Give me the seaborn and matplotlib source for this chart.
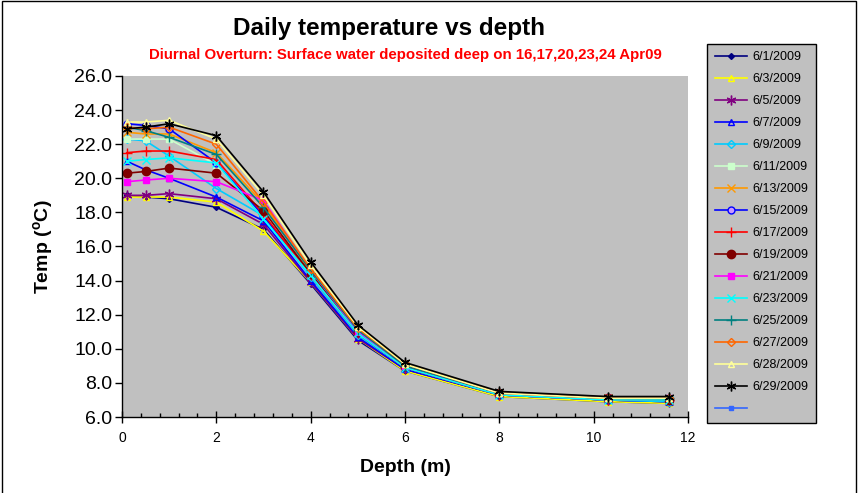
import matplotlib
matplotlib.use("Agg")
import matplotlib.pyplot as plt
import seaborn as sns
import pandas as pd
from matplotlib.patches import Rectangle

# depths (m) of the sensors
depth = [0.1, 0.5, 1, 2, 3, 4, 5, 6, 8, 10.3, 11.6]

dates = ["6/1/2009", "6/3/2009", "6/5/2009", "6/7/2009", "6/9/2009", "6/11/2009",
         "6/13/2009", "6/15/2009", "6/17/2009", "6/19/2009", "6/21/2009",
         "6/23/2009", "6/25/2009", "6/27/2009", "6/28/2009", "6/29/2009"]

t_0601 = [19.0, 18.9, 18.8, 18.3, 17.0, 13.8, 10.5, 8.7, 7.2, 6.9, 6.8]
t_0603 = [18.9, 18.9, 18.9, 18.6, 16.9, 13.9, 10.6, 8.7, 7.2, 6.9, 6.8]
t_0605 = [19.0, 19.0, 19.1, 18.8, 17.3, 13.9, 10.6, 8.8, 7.3, 7.0, 6.9]
t_0607 = [21.0, 20.5, 20.0, 18.9, 17.5, 14.0, 10.7, 8.8, 7.3, 7.0, 6.9]
t_0609 = [22.3, 22.2, 21.3, 19.4, 17.8, 14.2, 10.8, 8.9, 7.3, 7.0, 6.9]
t_0611 = [22.3, 22.3, 22.3, 20.8, 18.0, 14.3, 10.9, 8.9, 7.3, 7.0, 7.0]
t_0613 = [22.7, 22.6, 22.6, 21.5, 18.5, 14.5, 11.0, 9.0, 7.4, 7.1, 7.0]
t_0615 = [23.2, 23.1, 22.9, 20.9, 17.8, 14.4, 10.9, 8.9, 7.3, 7.0, 7.0]
t_0617 = [21.5, 21.6, 21.6, 21.1, 17.9, 14.3, 10.9, 8.9, 7.3, 7.0, 7.0]
t_0619 = [20.3, 20.4, 20.6, 20.3, 18.1, 14.4, 11.0, 9.0, 7.4, 7.1, 7.0]
t_0621 = [19.8, 19.9, 20.0, 19.8, 18.7, 14.6, 11.0, 9.0, 7.4, 7.1, 7.1]
t_0623 = [21.0, 21.1, 21.2, 20.9, 17.6, 14.3, 10.9, 8.9, 7.3, 7.0, 7.0]
t_0625 = [23.0, 22.8, 22.4, 21.4, 18.3, 14.6, 11.1, 9.0, 7.4, 7.1, 7.1]
t_0627 = [23.0, 22.9, 23.0, 22.0, 18.6, 14.7, 11.2, 9.1, 7.4, 7.1, 7.1]
t_0628 = [23.3, 23.3, 23.4, 22.3, 19.0, 14.9, 11.3, 9.1, 7.4, 7.1, 7.1]
t_0629 = [22.9, 23.0, 23.2, 22.5, 19.2, 15.1, 11.4, 9.2, 7.5, 7.2, 7.2]

temps = [t_0601, t_0603, t_0605, t_0607, t_0609, t_0611, t_0613, t_0615,
         t_0617, t_0619, t_0621, t_0623, t_0625, t_0627, t_0628, t_0629]

# excel-ish styles: color, marker, face, size
styles = [
    ("#000080", "D", "#000080", 3),
    ("#FFFF00", "^", "none", 5),
    ("#800080", (6, 2, 0), "#800080", 7),
    ("#0000FF", "^", "none", 5),
    ("#00CCFF", "D", "none", 4),
    ("#CCFFCC", "s", "#CCFFCC", 5),
    ("#FF9900", "x", "#FF9900", 6),
    ("#0000FF", "o", "#CC99FF", 5),
    ("#FF0000", "+", "#FF0000", 7),
    ("#800000", "o", "#800000", 6),
    ("#FF00FF", "s", "#FF00FF", 5),
    ("#00FFFF", "x", "#00FFFF", 6),
    ("#008080", "+", "#008080", 7),
    ("#FF6600", "D", "none", 4),
    ("#FFFF99", "^", "none", 5),
    ("#000000", (6, 2, 0), "#000000", 7),
]

plt.rcParams["font.family"] = ["Liberation Sans", "DejaVu Sans"]

fig = plt.figure(figsize=(8.6, 4.93), dpi=100)
ax = fig.add_axes([122 / 860, 1 - 417 / 493, (688 - 122) / 860, (417 - 76) / 493])
ax.set_facecolor("#C0C0C0")

handles = []
for lab, vals, (c, m, fc, ms) in zip(dates, temps, styles):
    df = pd.DataFrame({"depth": depth, "temp": vals})
    sns.lineplot(data=df, x="depth", y="temp", ax=ax, color=c, marker=m,
                 markersize=ms, markerfacecolor=fc, markeredgecolor=c,
                 markeredgewidth=1, linewidth=1.2, label=lab, legend=False)
    handles.append(ax.lines[-1])

# last empty series in the legend
blank, = ax.plot([], [], color="#3366FF", marker="s", markersize=3, linewidth=1.2)
handles.append(blank)
labels = dates + [" "]

ax.set_xlim(0, 12)
ax.set_ylim(6, 26)
ax.set_xticks(range(0, 13, 2))
ax.set_xticks([i * 0.4 for i in range(31)], minor=True)
ax.set_yticks(range(6, 27, 2))
ax.set_yticklabels([f"{v:.1f}" for v in range(6, 27, 2)])
ax.tick_params(axis="y", direction="out", length=5, width=1, labelsize=14, pad=2)
ax.tick_params(axis="x", which="major", direction="inout", length=8, width=1, labelsize=10, pad=6)
ax.tick_params(axis="x", which="minor", direction="in", length=3, width=1)
for s in ["top", "right"]:
    ax.spines[s].set_visible(False)
for s in ["left", "bottom"]:
    ax.spines[s].set_color("black")
    ax.spines[s].set_linewidth(1)

ax.set_xlabel("Depth (m)", fontsize=14, fontweight="bold", labelpad=10)
ax.set_ylabel("Temp ($^{\\mathregular{o}}$C)", fontsize=14, fontweight="bold", labelpad=13)

fig.text(389 / 860, 1 - 28 / 493, "Daily temperature vs depth", ha="center", va="center",
         fontsize=17.5, fontweight="bold")
fig.text(405 / 860, 1 - 55 / 493,
         "Diurnal Overturn: Surface water deposited deep on 16,17,20,23,24 Apr09",
         ha="center", va="center", fontsize=10.8, fontweight="bold", color="red")

leg = fig.legend(handles, labels, loc="upper left",
                 bbox_to_anchor=(707 / 860, 1 - 44 / 493), fontsize=9,
                 frameon=True, fancybox=False, edgecolor="black", facecolor="#C0C0C0",
                 framealpha=1, labelspacing=0.8, handlelength=2.6, handletextpad=0.4,
                 borderpad=0.6, borderaxespad=0)
leg.get_frame().set_linewidth(1)

fig.patches.append(Rectangle((0.002, -0.01), 0.993, 1.007, transform=fig.transFigure,
                             fill=False, edgecolor="black", linewidth=1))

fig.savefig("out.png", dpi=100)
